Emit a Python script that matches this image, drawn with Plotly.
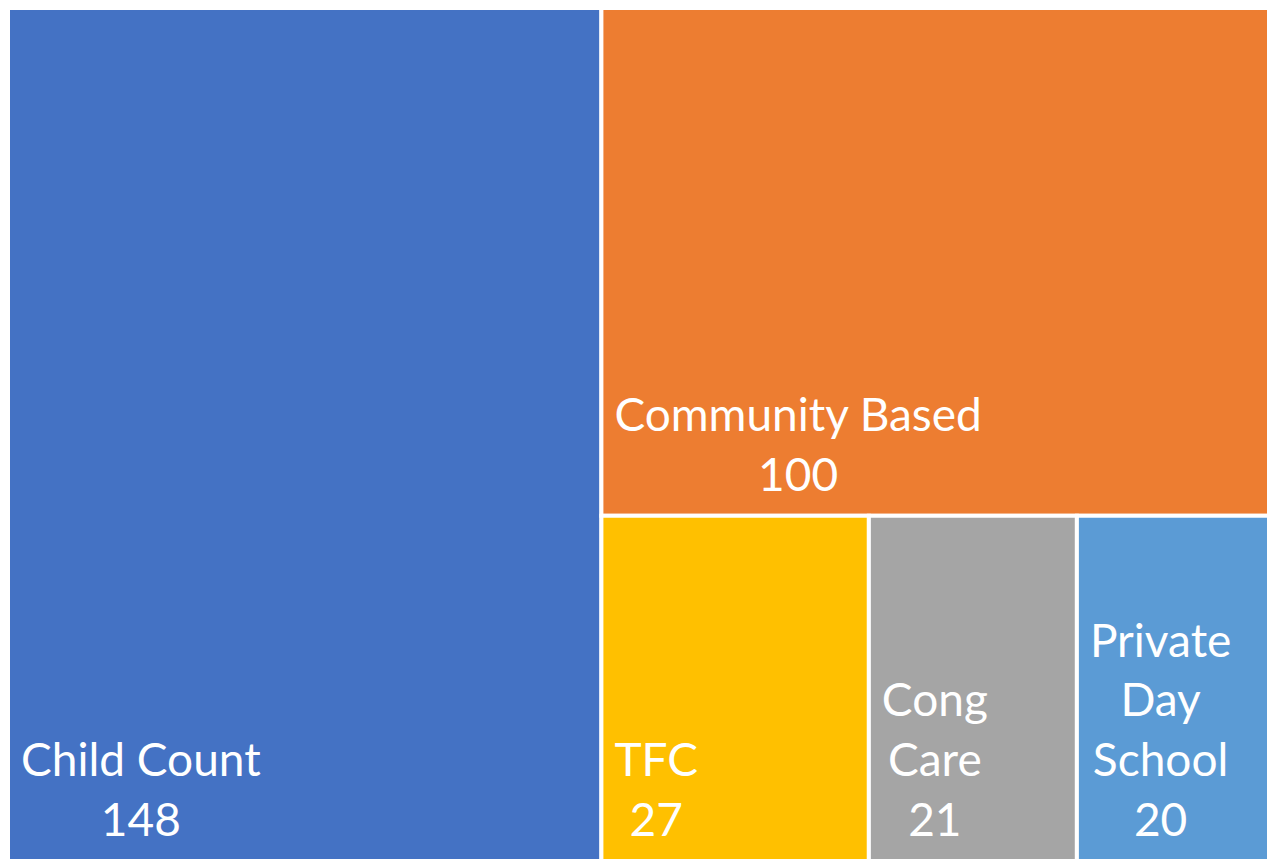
import plotly.graph_objects as go

categories = ["Child Count", "Community Based", "TFC", "Cong Care", "Private Day School"]
display_labels = ["Child Count", "Community Based", "TFC", "Cong<br>Care", "Private<br>Day<br>School"]
values = [148, 100, 27, 21, 20]
colors = ["#4472C4", "#ED7D31", "#FFC000", "#A5A5A5", "#5B9BD5"]

fig = go.Figure(go.Treemap(
    labels=categories,
    parents=[""] * len(categories),
    values=values,
    customdata=display_labels,
    texttemplate="%{customdata}<br>%{value}",
    textposition="bottom left",
    textfont=dict(family="Lato, Calibri, sans-serif", size=46, color="white"),
    marker=dict(colors=colors, line=dict(color="white", width=4),
                pad=dict(t=0, l=0, r=0, b=0)),
    pathbar=dict(visible=False),
    tiling=dict(packing="squarify", pad=0),
    domain=dict(x=[0, 1], y=[0, 1]),
    sort=True,
    hoverinfo="label+value",
))

fig.update_layout(
    width=1275, height=861,
    margin=dict(l=8, r=0, t=8, b=0),
    paper_bgcolor="white",
)

post = """
document.documentElement.style.overflow = 'hidden';
document.body.style.overflow = 'hidden';
document.body.style.margin = '0';
var gd = document.getElementById('{plot_id}');
gd.querySelectorAll('text.slicetext').forEach(function(t){
  var lines = t.querySelectorAll('tspan.line');
  if (!lines.length) return;
  var maxW = 0;
  lines.forEach(function(l){ maxW = Math.max(maxW, l.getComputedTextLength()); });
  t.setAttribute('text-anchor', 'middle');
  lines.forEach(function(l){
    var x = parseFloat(l.getAttribute('x') || 0);
    l.setAttribute('x', x + maxW / 2);
  });
  var tr = t.getAttribute('transform') || '';
  t.setAttribute('transform', 'translate(10,-12) ' + tr);
});
"""

fig.write_html("out.html", post_script=post, config={"displayModeBar": False})
